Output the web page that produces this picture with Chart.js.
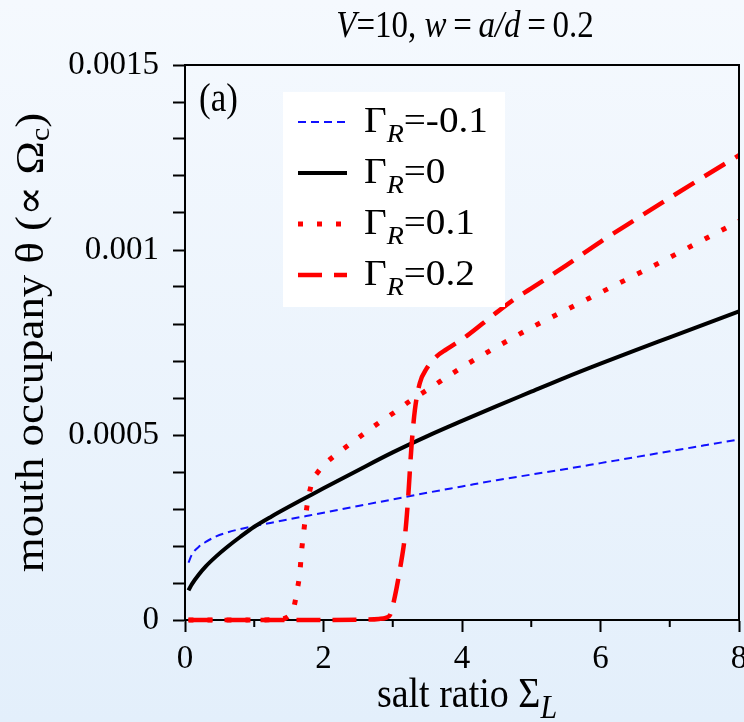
<!DOCTYPE html>
<html>
<head>
<meta charset="utf-8">
<script src="https://cdn.jsdelivr.net/npm/chart.js@4.4.1/dist/chart.umd.min.js"></script>
<style>
  html, body { margin: 0; padding: 0; background: #eaf4fd; }
  canvas { display: block; }
</style>
</head>
<body>
<canvas id="chart" width="744" height="722"></canvas>
<script>
// Chart data
const xMajorTicks = [0, 2, 4, 6, 8];
const yMajorLabels = ['0', '0.0005', '0.001', '0.0015'];
const gammaLabels = ['-0.1', '0', '0.1', '0.2'];

// Gamma_R = -0.1
const sigmaNeg = [0.05, 0.1, 0.2, 0.3, 0.45, 0.6, 0.8, 1.0, 1.25, 1.5, 1.75, 2, 2.5, 3, 3.5, 4, 4.5, 5, 5.5, 6, 6.5, 7, 7.5, 8];
const thetaNeg = [0.000155, 0.000177, 0.000198, 0.000211, 0.000226, 0.000236, 0.000246, 0.000254, 0.000263, 0.000272, 0.000281, 0.00029, 0.000308, 0.000326, 0.000344, 0.000361, 0.000378, 0.000393, 0.000408, 0.000424, 0.00044, 0.000456, 0.000472, 0.000488];

// Gamma_R = 0
const sigmaZero = [0.05, 0.1, 0.2, 0.3, 0.45, 0.6, 0.8, 1, 1.25, 1.5, 1.75, 2, 2.5, 3, 3.5, 4, 4.5, 5, 5.5, 6, 6.5, 7, 7.5, 8];
const thetaZero = [0.00008, 0.000097, 0.000123, 0.000145, 0.000172, 0.000196, 0.000225, 0.000252, 0.00028, 0.000306, 0.000331, 0.000356, 0.000405, 0.000453, 0.000497, 0.000538, 0.000578, 0.000617, 0.000656, 0.000693, 0.000729, 0.000764, 0.000799, 0.000834];

// Gamma_R = 0.1
const sigmaDot = [0.05, 0.5, 1, 1.3, 1.45, 1.52, 1.57, 1.62, 1.66, 1.68, 1.71, 1.74, 1.78, 1.84, 1.92, 2, 2.2, 2.4, 2.6, 2.8, 3, 3.25, 3.5, 4, 4.5, 5, 5.5, 6, 6.5, 7, 7.5, 8];
const thetaDot = [0, 0, 0, 0.000001, 0.000005, 0.000015, 0.000033, 0.000081, 0.00013, 0.00018, 0.00023, 0.000279, 0.000328, 0.000376, 0.0004, 0.000418, 0.00045, 0.000478, 0.000506, 0.000533, 0.000558, 0.000592, 0.000622, 0.000683, 0.000738, 0.00079, 0.000838, 0.000885, 0.000932, 0.00098, 0.001029, 0.001078];

// Gamma_R = 0.2
const sigmaDash = [0.05, 1, 2, 2.6, 2.8, 2.9, 2.96, 3.03, 3.11, 3.18, 3.22, 3.27, 3.32, 3.39, 3.49, 3.63, 3.78, 4.07, 4.45, 4.74, 5, 5.5, 6, 6.5, 7, 7.5, 8];
const thetaDash = [0, 0, 0, 0.000001, 0.000003, 0.000006, 0.0000135, 0.000063, 0.000144, 0.000234, 0.000324, 0.000468, 0.000568, 0.00064, 0.00068, 0.000712, 0.000732, 0.000768, 0.000824, 0.000865, 0.000896, 0.000958, 0.001022, 0.001082, 0.001141, 0.001199, 0.001256];

const SERIF = '"Liberation Serif", "DejaVu Serif", serif';

function toPoints(xs, ys) {
  return xs.map((x, i) => ({ x: x, y: ys[i] }));
}

// draw a line of text made of runs [text, font, dy]
function drawRich(ctx, runs, x, y, opts) {
  ctx.save();
  ctx.translate(x, y);
  if (opts.rotate) ctx.rotate(opts.rotate);
  ctx.scale(opts.sx || 1, opts.sy || 1);
  ctx.textBaseline = 'alphabetic';
  ctx.textAlign = 'left';
  ctx.fillStyle = '#000';
  let w = 0;
  runs.forEach(r => { ctx.font = r[1]; w += ctx.measureText(r[0]).width; });
  let cx = opts.align === 'center' ? -w / 2 : 0;
  runs.forEach(r => {
    ctx.font = r[1];
    ctx.fillText(r[0], cx, r[2] || 0);
    cx += ctx.measureText(r[0]).width;
  });
  ctx.restore();
}

const backgroundPlugin = {
  id: 'background',
  beforeDraw(chart) {
    const ctx = chart.ctx;
    const g = ctx.createLinearGradient(0, 0, 0, chart.height);
    g.addColorStop(0, '#f5f9fe');
    g.addColorStop(1, '#e3effb');
    ctx.save();
    ctx.fillStyle = g;
    ctx.fillRect(0, 0, chart.width, chart.height);
    ctx.restore();
  }
};

const decorPlugin = {
  id: 'decor',
  afterDraw(chart) {
    const ctx = chart.ctx;
    const area = chart.chartArea;
    const xs = chart.scales.x;

    // frame on top and right
    ctx.save();
    ctx.strokeStyle = '#000';
    ctx.lineWidth = 2;
    ctx.beginPath();
    ctx.moveTo(area.left, area.top);
    ctx.lineTo(area.right, area.top);
    ctx.lineTo(area.right, area.bottom);
    ctx.stroke();

    // minor x ticks (shorter)
    ctx.beginPath();
    xs.ticks.forEach(t => {
      if (xMajorTicks.includes(t.value)) return;
      const px = xs.getPixelForValue(t.value);
      ctx.moveTo(px, area.bottom);
      ctx.lineTo(px, area.bottom + 7);
    });
    ctx.stroke();
    ctx.restore();

    // title
    const cx = (area.left + area.right) / 2;
    drawRich(ctx, [
      ['V', 'italic 33px ' + SERIF],
      ['=10, ', '33px ' + SERIF],
      ['w', 'italic 33px ' + SERIF],
      ['\u2009=\u2009', '33px ' + SERIF],
      ['a/d', 'italic 33px ' + SERIF],
      ['\u2009=\u20090.2', '33px ' + SERIF]
    ], cx + 3, 37, { align: 'center', sy: 1.12 });

    // panel tag
    drawRich(ctx, [['(a)', '35px ' + SERIF]], 199, 111, { sy: 1.12 });

    // y axis title
    drawRich(ctx, [
      ['mouth occupany \u03b8 (\u221d \u03a9', '40px ' + SERIF],
      ['c', '27px ' + SERIF, 6],
      [')', '40px ' + SERIF]
    ], 43, (area.top + area.bottom) / 2, { align: 'center', rotate: -Math.PI / 2, sx: 1.12 });

    // x axis title
    drawRich(ctx, [
      ['salt ratio \u03a3', '38px ' + SERIF],
      ['L', 'italic 30px ' + SERIF, 10]
    ], 467, 707, { align: 'center', sy: 1.12 });

    // legend box
    const box = { x: 283, y: 92, w: 222, h: 215 };
    ctx.save();
    ctx.fillStyle = '#ffffff';
    ctx.fillRect(box.x, box.y, box.w, box.h);
    ctx.restore();

    chart.data.datasets.forEach((ds, i) => {
      const base = 132 + i * 51;
      const ly = base - 10;
      ctx.save();
      ctx.strokeStyle = ds.borderColor;
      ctx.lineWidth = ds.borderWidth;
      ctx.setLineDash(ds.borderDash || []);
      ctx.beginPath();
      ctx.moveTo(298, ly);
      ctx.lineTo(347, ly);
      ctx.stroke();
      ctx.restore();
      drawRich(ctx, [
        ['\u0393', '35px ' + SERIF],
        ['R', 'italic 25px ' + SERIF, 10],
        ['=' + gammaLabels[i], '35px ' + SERIF]
      ], 364, base, { sx: 1.12 });
    });
  }
};

const ctx = document.getElementById('chart').getContext('2d');

new Chart(ctx, {
  type: 'line',
  data: {
    datasets: [
      {
        label: 'Gamma_R=-0.1',
        data: toPoints(sigmaNeg, thetaNeg),
        borderColor: '#1010ff',
        borderWidth: 2,
        borderDash: [8, 5],
        order: 4
      },
      {
        label: 'Gamma_R=0',
        data: toPoints(sigmaZero, thetaZero),
        borderColor: '#000000',
        borderWidth: 4,
        order: 3
      },
      {
        label: 'Gamma_R=0.1',
        data: toPoints(sigmaDot, thetaDot),
        borderColor: '#ff0000',
        borderWidth: 5,
        borderDash: [5, 14],
        order: 2
      },
      {
        label: 'Gamma_R=0.2',
        data: toPoints(sigmaDash, thetaDash),
        borderColor: '#ff0000',
        borderWidth: 4.5,
        borderDash: [24, 12],
        order: 1
      }
    ]
  },
  options: {
    responsive: false,
    animation: false,
    devicePixelRatio: 1,
    clip: false,
    layout: { padding: { top: 65, right: 5, left: 0, bottom: 0 } },
    elements: {
      point: { radius: 0, hoverRadius: 0 },
      line: { cubicInterpolationMode: 'monotone', fill: false, borderCapStyle: 'butt' }
    },
    plugins: {
      legend: { display: false },
      tooltip: { enabled: false },
      title: { display: false }
    },
    scales: {
      x: {
        type: 'linear',
        min: 0,
        max: 8,
        afterBuildTicks(scale) {
          const t = [];
          for (let v = 0; v <= 8; v++) t.push({ value: v });
          scale.ticks = t;
        },
        afterFit(scale) {
          scale.height = 102;
          scale.paddingLeft = 0;
          scale.paddingRight = 0;
        },
        ticks: {
          autoSkip: false,
          maxRotation: 0,
          padding: 8,
          color: '#000',
          font: { family: SERIF, size: 33 },
          callback: v => xMajorTicks.includes(v) ? String(v) : ''
        },
        grid: {
          drawOnChartArea: false,
          tickLength: 12,
          tickWidth: 2,
          tickColor: c => (c.tick && xMajorTicks.includes(c.tick.value)) ? '#000' : 'rgba(0,0,0,0)'
        },
        border: { color: '#000', width: 2 }
      },
      y: {
        type: 'linear',
        min: 0,
        max: 0.0015,
        afterBuildTicks(scale) {
          const t = [];
          for (let i = 0; i <= 15; i++) t.push({ value: i * 0.0001 });
          scale.ticks = t;
        },
        afterFit(scale) {
          scale.width = 185;
          scale.paddingTop = 0;
          scale.paddingBottom = 0;
        },
        ticks: {
          autoSkip: false,
          padding: 14,
          color: '#000',
          font: { family: SERIF, size: 33 },
          callback: (v, i) => i % 5 === 0 ? yMajorLabels[i / 5] : ''
        },
        grid: {
          drawOnChartArea: false,
          tickLength: 12,
          tickWidth: 2,
          tickColor: '#000'
        },
        border: { color: '#000', width: 2 }
      }
    }
  },
  plugins: [backgroundPlugin, decorPlugin]
});
</script>
</body>
</html>
